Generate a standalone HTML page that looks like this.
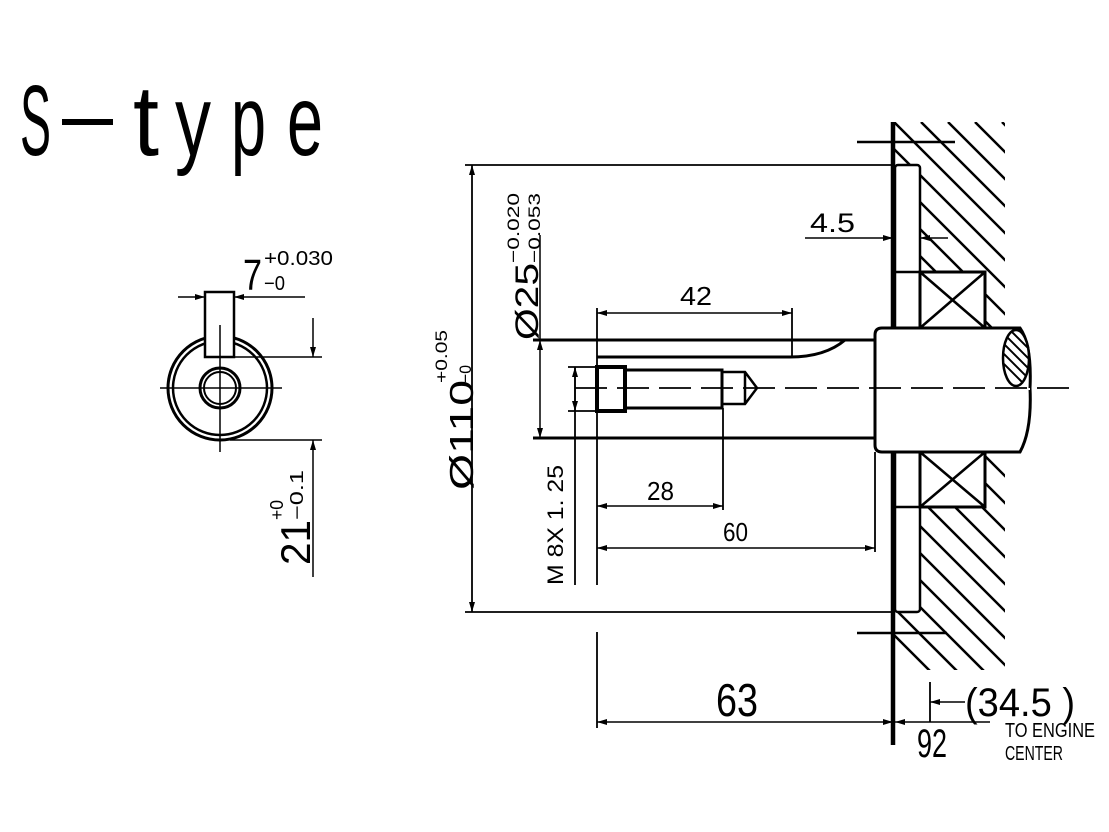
<!DOCTYPE html>
<html><head><meta charset="utf-8"><style>
html,body{margin:0;padding:0;background:#fff;width:1109px;height:832px;overflow:hidden}
text{font-family:"Liberation Sans",sans-serif;fill:#000}
</style></head><body>
<svg width="1109" height="832" viewBox="0 0 1109 832" xmlns="http://www.w3.org/2000/svg">
<defs>
<clipPath id="hc"><rect x="895" y="122" width="110" height="548"/></clipPath>
<clipPath id="ec"><ellipse cx="1016" cy="358" rx="13" ry="28"/></clipPath>
<marker id="a" viewBox="0 0 10 6" refX="10" refY="3" markerWidth="10" markerHeight="6" orient="auto-start-reverse" markerUnits="userSpaceOnUse"><path d="M0,0 L10,3 L0,6 z" fill="#000"/></marker>
</defs>
<g font-size="100">
<text x="20" y="155" textLength="31" lengthAdjust="spacingAndGlyphs">S</text>
<rect x="62" y="119" width="51" height="6" fill="#000"/>
<text x="133" y="155" textLength="26" lengthAdjust="spacingAndGlyphs">t</text>
<text x="175" y="155" textLength="36" lengthAdjust="spacingAndGlyphs">y</text>
<text x="231" y="155" textLength="35" lengthAdjust="spacingAndGlyphs">p</text>
<text x="287" y="155" textLength="36" lengthAdjust="spacingAndGlyphs">e</text>
</g>

<!-- left view -->
<g stroke="#000" fill="none">
<circle cx="220" cy="388" r="52" stroke-width="3"/>
<circle cx="220" cy="388" r="47" stroke-width="2.5"/>
<circle cx="220" cy="388" r="20" stroke-width="3"/>
<circle cx="220" cy="388" r="16" stroke-width="2"/>
<rect x="205" y="292" width="29" height="65" fill="#fff" stroke-width="2.5"/>
<line x1="160" y1="388" x2="282" y2="388" stroke-width="1.5"/>
<line x1="220" y1="325" x2="220" y2="452" stroke-width="1.5"/>
<line x1="178" y1="297" x2="205" y2="297" stroke-width="1.5" marker-end="url(#a)"/>
<line x1="305" y1="297" x2="234" y2="297" stroke-width="1.5" marker-end="url(#a)"/>
<line x1="235" y1="357" x2="322" y2="357" stroke-width="1.5"/>
<line x1="230" y1="440" x2="322" y2="440" stroke-width="1.5"/>
<line x1="313" y1="318" x2="313" y2="357" stroke-width="1.5" marker-end="url(#a)"/>
<line x1="313" y1="577" x2="313" y2="440" stroke-width="1.5" marker-end="url(#a)"/>
</g>
<text x="243" y="290" font-size="44" textLength="19" lengthAdjust="spacingAndGlyphs">7</text>
<text x="264" y="265" font-size="20" textLength="69" lengthAdjust="spacingAndGlyphs">+0.030</text>
<text x="264" y="290" font-size="20" textLength="21" lengthAdjust="spacingAndGlyphs">−0</text>
<g transform="translate(310,565) rotate(-90)">
<text x="0" y="0" font-size="42" textLength="45" lengthAdjust="spacingAndGlyphs">21</text>
<text x="45" y="-27" font-size="18" textLength="20" lengthAdjust="spacingAndGlyphs">+0</text>
<text x="45" y="-7" font-size="18" textLength="50" lengthAdjust="spacingAndGlyphs">−0.1</text>
</g>

<!-- hatch -->
<g clip-path="url(#hc)" stroke="#000" stroke-width="2.5">
<path d="M840,122 l600,600 M867,122 l600,600 M894,122 l600,600 M921,122 l600,600 M948,122 l600,600 M975,122 l600,600 M1002,122 l600,600 M813,122 l600,600 M786,122 l600,600 M759,122 l600,600 M732,122 l600,600 M705,122 l600,600 M678,122 l600,600 M651,122 l600,600 M624,122 l600,600 M597,122 l600,600 M570,122 l600,600 M543,122 l600,600 M516,122 l600,600 M489,122 l600,600 M462,122 l600,600 M435,122 l600,600 M408,122 l600,600 M381,122 l600,600"/>
</g>
<g stroke="#000" fill="#fff">
<rect x="895" y="165" width="25" height="447" rx="3" stroke-width="2.5"/>
<rect x="920" y="272" width="65" height="56" stroke-width="3"/>
<path d="M920,272 L985,328 M985,272 L920,328" stroke-width="2.5"/>
<rect x="920" y="452" width="65" height="55" stroke-width="3"/>
<path d="M920,452 L985,507 M985,452 L920,507" stroke-width="2.5"/>
<line x1="893" y1="122" x2="893" y2="745" stroke-width="4.5"/>
<line x1="893" y1="272" x2="920" y2="272" stroke-width="2.5"/>
<line x1="893" y1="507" x2="920" y2="507" stroke-width="2.5"/>
<line x1="857" y1="142" x2="955" y2="142" stroke-width="2.5"/>
<line x1="857" y1="633" x2="947" y2="633" stroke-width="2.5"/>
<path d="M882,328 L1020,328 Q1032,345 1030,388 Q1032,430 1020,452 L882,452 Q875,452 875,445 L875,335 Q875,328 882,328 Z" stroke-width="3"/>
<ellipse cx="1016" cy="358" rx="13" ry="28" stroke-width="2.5"/>
</g>
<g clip-path="url(#ec)" stroke="#000" stroke-width="2">
<path d="M990,320 l60,60 M990,330 l60,60 M990,340 l60,60 M990,310 l60,60 M990,300 l60,60 M990,290 l60,60 M990,350 l60,60"/>
</g>
<rect x="990" y="388" width="40" height="2" fill="#fff"/>

<!-- small shaft -->
<g stroke="#000" fill="none">
<line x1="533" y1="340" x2="875" y2="340" stroke-width="3"/>
<line x1="533" y1="438" x2="875" y2="438" stroke-width="3"/>
<path d="M597,357 L790,357 Q825,357 845,340" stroke-width="3"/>
<line x1="575" y1="388" x2="1072" y2="388" stroke-width="1.8" stroke-dasharray="32,10"/>
<rect x="597" y="367" width="28" height="44" stroke-width="4"/>
<rect x="625" y="370" width="97" height="38" stroke-width="3"/>
<path d="M722,372 L745,372 L757,388 L745,404 L722,404 M745,372 L745,404" stroke-width="2.5"/>
<line x1="597" y1="308" x2="597" y2="585" stroke-width="1.8"/>
<line x1="792" y1="308" x2="792" y2="357" stroke-width="1.8"/>
<line x1="597" y1="313" x2="792" y2="313" stroke-width="1.5" marker-start="url(#a)" marker-end="url(#a)"/>
<line x1="723" y1="408" x2="723" y2="510" stroke-width="1.8"/>
<line x1="597" y1="506" x2="723" y2="506" stroke-width="1.5" marker-start="url(#a)" marker-end="url(#a)"/>
<line x1="875" y1="452" x2="875" y2="552" stroke-width="1.8"/>
<line x1="597" y1="548" x2="875" y2="548" stroke-width="1.5" marker-start="url(#a)" marker-end="url(#a)"/>
<line x1="568" y1="367" x2="597" y2="367" stroke-width="1.8"/>
<line x1="568" y1="411" x2="597" y2="411" stroke-width="1.8"/>
<line x1="575" y1="367" x2="575" y2="585" stroke-width="1.8"/>
<line x1="575" y1="367" x2="575" y2="411" stroke-width="1.5" marker-start="url(#a)" marker-end="url(#a)"/>
<line x1="540" y1="340" x2="540" y2="438" stroke-width="1.5" marker-start="url(#a)" marker-end="url(#a)"/>
<line x1="540" y1="235" x2="540" y2="340" stroke-width="1.5"/>
<line x1="465" y1="165" x2="895" y2="165" stroke-width="1.8"/>
<line x1="465" y1="612" x2="895" y2="612" stroke-width="1.8"/>
<line x1="472" y1="165" x2="472" y2="612" stroke-width="1.8" marker-start="url(#a)" marker-end="url(#a)"/>
<line x1="805" y1="238" x2="893" y2="238" stroke-width="1.5" marker-end="url(#a)"/>
<line x1="948" y1="238" x2="920" y2="238" stroke-width="1.5" marker-end="url(#a)"/>
<line x1="597" y1="632" x2="597" y2="728" stroke-width="1.8"/>
<line x1="597" y1="722" x2="893" y2="722" stroke-width="1.5" marker-start="url(#a)" marker-end="url(#a)"/>
<line x1="990" y1="722" x2="895" y2="722" stroke-width="1.5" marker-end="url(#a)"/>
<line x1="930" y1="682" x2="930" y2="722" stroke-width="1.8"/>
<line x1="965" y1="702" x2="930" y2="702" stroke-width="1.5" marker-end="url(#a)"/>
</g>
<text x="680" y="305" font-size="26" textLength="32" lengthAdjust="spacingAndGlyphs">42</text>
<text x="647" y="500" font-size="26" textLength="27" lengthAdjust="spacingAndGlyphs">28</text>
<text x="723" y="541" font-size="26" textLength="25" lengthAdjust="spacingAndGlyphs">60</text>
<text x="810" y="232" font-size="27" textLength="45" lengthAdjust="spacingAndGlyphs">4.5</text>
<text x="716" y="716" font-size="46" textLength="42" lengthAdjust="spacingAndGlyphs">63</text>
<text x="917" y="757" font-size="40" textLength="30" lengthAdjust="spacingAndGlyphs">92</text>
<text x="965" y="716" font-size="40" textLength="110" lengthAdjust="spacingAndGlyphs">(34.5 )</text>
<text x="1005" y="737" font-size="20" textLength="90" lengthAdjust="spacingAndGlyphs">TO ENGINE</text>
<text x="1005" y="760" font-size="20" textLength="58" lengthAdjust="spacingAndGlyphs">CENTER</text>
<g transform="translate(473,490) rotate(-90)">
<text x="0" y="0" font-size="33" textLength="110" lengthAdjust="spacingAndGlyphs">Ø110</text>
<text x="107" y="-26" font-size="17" textLength="53" lengthAdjust="spacingAndGlyphs">+0.05</text>
<text x="107" y="-2" font-size="17" textLength="18" lengthAdjust="spacingAndGlyphs">−0</text>
</g>
<g transform="translate(538,340) rotate(-90)">
<text x="0" y="0" font-size="32" textLength="77" lengthAdjust="spacingAndGlyphs">Ø25</text>
<text x="77" y="-19" font-size="17" textLength="70" lengthAdjust="spacingAndGlyphs">−0.020</text>
<text x="77" y="2" font-size="17" textLength="70" lengthAdjust="spacingAndGlyphs">−0.053</text>
</g>
<g transform="translate(563,585) rotate(-90)">
<text x="0" y="0" font-size="22" textLength="120" lengthAdjust="spacingAndGlyphs">M 8X 1. 25</text>
</g>
</svg>
</body></html>
